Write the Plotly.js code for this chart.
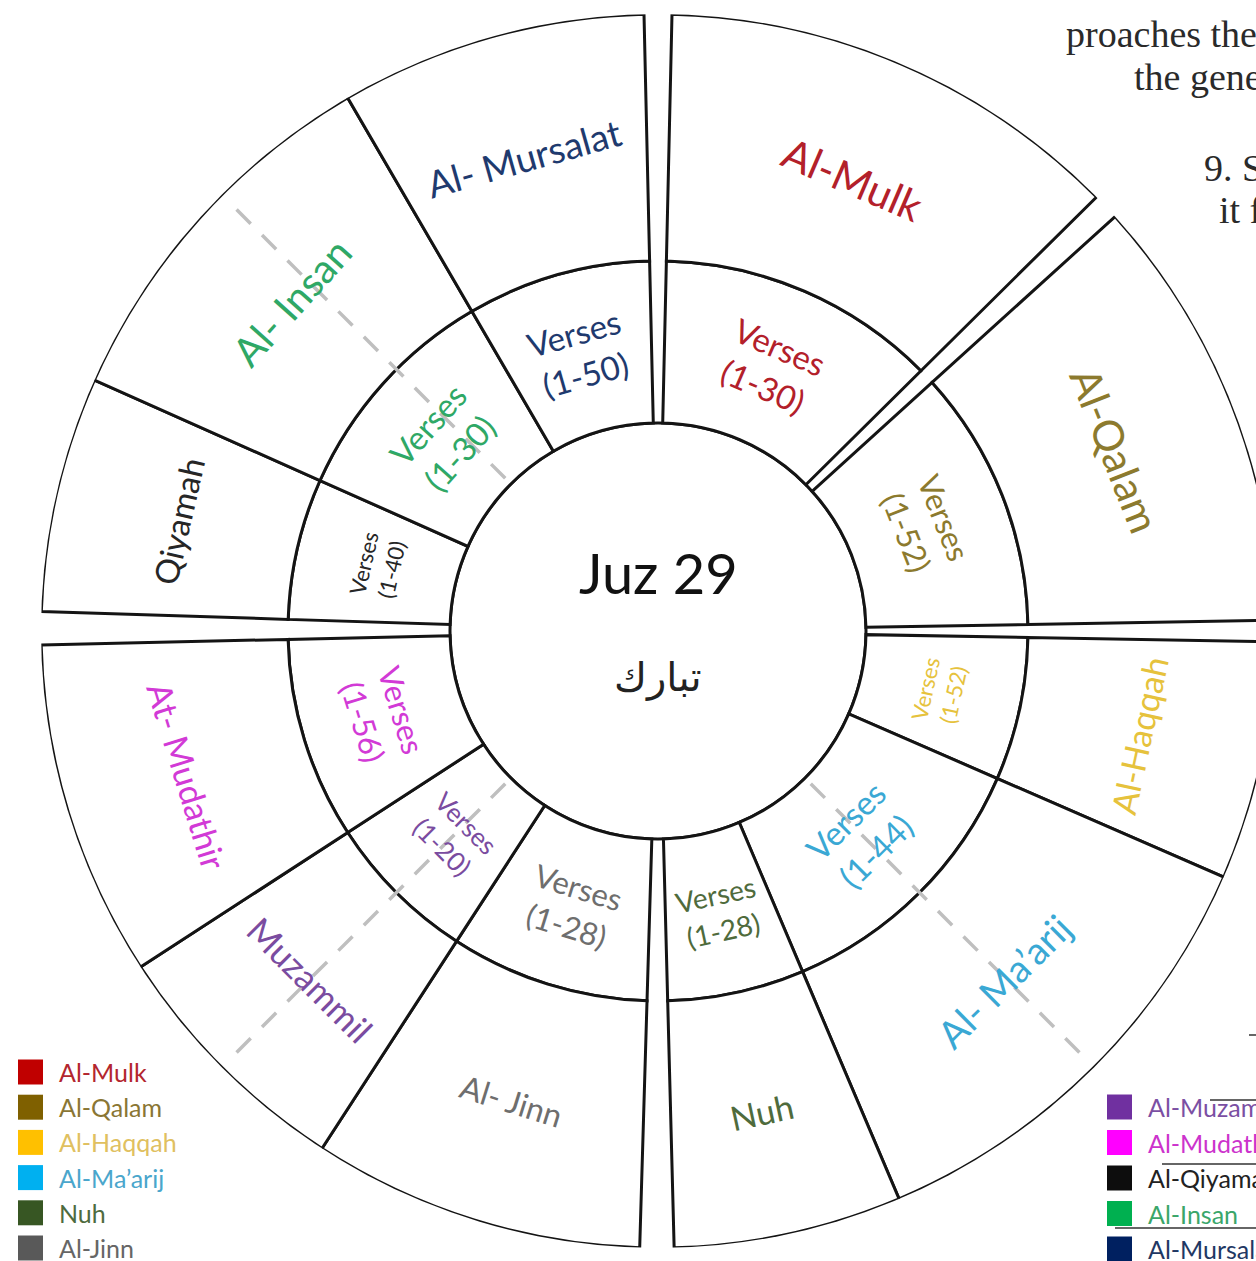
<!DOCTYPE html>
<html><head><meta charset="utf-8">
<script src="https://cdn.plot.ly/plotly-3.0.1.min.js"></script>
<style>html,body{margin:0;padding:0;overflow:hidden;background:#fff}#chart{width:1300px;height:1261px}</style>
</head><body><div id="chart"></div>
<script>
// ---------------- data ----------------
const surahs      = ["Al-Mulk","Al-Qalam","Al-Haqqah","Al-Ma’arij","Nuh","Al-Jinn","Al-Muzammil","Al-Mudathir","Al-Qiyamah","Al-Insan","Al-Mursalat"];
const ringLabels  = ["Al-Mulk","Al-Qalam","Al-Haqqah","Al- Ma’arij","Nuh","Al- Jinn","Muzammil","At- Mudathir","Qiyamah","Al- Insan","Al- Mursalat"];
const verseCounts = [30, 52, 52, 44, 28, 28, 20, 56, 40, 30, 50];
const sweepDeg    = [44.0, 41.2, 22.5, 43.5, 21.5, 31.3, 24.0, 31.7, 22.2, 35.8, 28.9];
const rubMarksDeg = [135, 225, 315];
const juzTitle    = "Juz 29";
const juzArabic   = "تبارك";
const legendLeft  = ["Al-Mulk","Al-Qalam","Al-Haqqah","Al-Ma’arij","Nuh","Al-Jinn"];
const legendRight = ["Al-Muzammil","Al-Mudathir","Al-Qiyamah","Al-Insan","Al-Mursalat"];
const pageText    = ["proaches the","the gene","9. S","it f"];

// ---------------- styles ----------------
const textColors   = ["#b3202a","#8c7a2e","#e6c23c","#3aa8d4","#4f6b3c","#6e6e6e","#7a4ca0","#d23ad6","#262626","#2fa866","#1f3a6e"];
const swatchColors = {"Al-Mulk":"#c00000","Al-Qalam":"#7f6000","Al-Haqqah":"#ffc000","Al-Ma’arij":"#00b0f0","Nuh":"#375623","Al-Jinn":"#595959",
                      "Al-Muzammil":"#7030a0","Al-Mudathir":"#ff00ff","Al-Qiyamah":"#0d0d0d","Al-Insan":"#00b050","Al-Mursalat":"#002060"};
const legendText   = {"Al-Mulk":"#b3262e","Al-Qalam":"#8a7634","Al-Haqqah":"#e0c060","Al-Ma’arij":"#4aa6cc","Nuh":"#4e6b3e","Al-Jinn":"#666666",
                      "Al-Muzammil":"#7b4fa3","Al-Mudathir":"#cc33cc","Al-Qiyamah":"#222222","Al-Insan":"#3aa66a","Al-Mursalat":"#1f3864"};
const gapBefore  = [1.3, 2.5, 2.0, 0, 0, 3.2, 0, 0, 3.1, 0, 0];
const outerSize  = [42, 42, 34, 38, 34, 32, 35, 34, 33, 40, 37];
const innerSize  = [33, 31, 22, 33, 28, 31, 26, 31, 22, 33, 33];
const FONT = "Lato, 'Open Sans', sans-serif";

const W = 1300, H = 1261, CX = 658, CY = 631, R = 617, R0 = 208, R1 = 370;

// angular layout
const mids = [];
let a = 0;
sweepDeg.forEach((s, i) => { a += gapBefore[i]; mids.push(a + s / 2); a += s; });

const outline = {color: "#141414", width: 3};
const traces = [
  {type: "barpolar", theta: [0], width: [360], base: [0], r: [R0],
   marker: {color: "#ffffff", line: outline}, hoverinfo: "skip", showlegend: false},
  {type: "barpolar", theta: mids, width: sweepDeg, base: R0, r: sweepDeg.map(() => R1 - R0),
   text: verseCounts.map(v => "Verses (1-" + v + ")"),
   marker: {color: "#ffffff", line: outline}, hoverinfo: "skip", showlegend: false},
  {type: "barpolar", theta: mids, width: sweepDeg, base: R1, r: sweepDeg.map(() => R - R1),
   text: surahs,
   marker: {color: "#ffffff", line: outline}, hoverinfo: "skip", showlegend: false}
];
rubMarksDeg.forEach(t => traces.push({
  type: "scatterpolar", mode: "lines", r: [R0 + 8, R - 14], theta: [t, t],
  line: {color: "#bfbfbf", width: 3.5, dash: "20px,16px"}, hoverinfo: "skip", showlegend: false
}));

function px(r, th) {
  const rad = th * Math.PI / 180;
  return [CX + r * Math.sin(rad), CY - r * Math.cos(rad)];
}
function paper(p) { return {x: p[0] / W, y: 1 - p[1] / H}; }
function tangentAngle(th) {
  if (th <= 90) return th;
  if (th < 270) return th - 180;
  return th - 360;
}

const annotations = [];
mids.forEach((th, i) => {
  const po = paper(px(492, th));
  annotations.push({xref: "paper", yref: "paper", x: po.x, y: po.y, xanchor: "center", yanchor: "middle",
    text: ringLabels[i], showarrow: false, textangle: tangentAngle(th),
    font: {family: FONT, size: outerSize[i], color: textColors[i]}});
  const pi = paper(px(288, th));
  annotations.push({xref: "paper", yref: "paper", x: pi.x, y: pi.y, xanchor: "center", yanchor: "middle",
    text: "Verses<br>(1-" + verseCounts[i] + ")", showarrow: false, textangle: tangentAngle(th),
    font: {family: FONT, size: innerSize[i], color: textColors[i]}});
});
// centre
annotations.push({xref: "paper", yref: "paper", x: paper([CX, 573]).x, y: paper([CX, 573]).y,
  text: juzTitle, showarrow: false, font: {family: FONT, size: 56, color: "#111"}});
annotations.push({xref: "paper", yref: "paper", x: paper([CX, 677]).x, y: paper([CX, 677]).y,
  text: juzArabic, showarrow: false, font: {family: "'DejaVu Sans', sans-serif", size: 40, color: "#222"}});

// legends
const shapes = [];
function legendColumn(names, x0, y0, step) {
  names.forEach((n, i) => {
    const yc = y0 + i * step;
    shapes.push({type: "rect", xref: "paper", yref: "paper",
      x0: x0 / W, x1: (x0 + 25) / W, y0: 1 - (yc - 12.5) / H, y1: 1 - (yc + 12.5) / H,
      fillcolor: swatchColors[n], line: {width: 0}});
    annotations.push({xref: "paper", yref: "paper", x: (x0 + 39) / W, y: 1 - yc / H,
      xanchor: "left", yanchor: "middle", text: n, showarrow: false,
      font: {family: FONT, size: 25, color: legendText[n]}});
  });
}
legendColumn(legendLeft, 18, 1072, 35.2);
legendColumn(legendRight, 1107, 1107, 35.5);

// surrounding page fragments
const pagePos = [[1064, 34], [1132, 77], [1202, 168], [1217, 210]];
pageText.forEach((t, i) => annotations.push({xref: "paper", yref: "paper",
  x: pagePos[i][0] / W, y: 1 - pagePos[i][1] / H, xanchor: "left", yanchor: "middle",
  text: t, showarrow: false, font: {family: "'Liberation Serif', serif", size: 38, color: "#2a2a2a"}}));
[[1210, 1100], [1162, 1164], [1115, 1228], [1249, 1035]].forEach(p => shapes.push({
  type: "line", xref: "paper", yref: "paper", x0: p[0] / W, x1: 1262 / W, y0: 1 - p[1] / H, y1: 1 - p[1] / H,
  line: {color: "#333", width: 1.5}}));

const layout = {
  width: W, height: H, margin: {l: 0, r: 0, t: 0, b: 0},
  paper_bgcolor: "#ffffff", plot_bgcolor: "#ffffff", showlegend: false,
  polar: {
    domain: {x: [(CX - R) / W, (CX + R) / W], y: [1 - (CY + R) / H, 1 - (CY - R) / H]},
    bgcolor: "rgba(0,0,0,0)", hole: 0, bargap: 0,
    radialaxis: {range: [0, R], visible: false, showgrid: false, showline: false, showticklabels: false, ticks: ""},
    angularaxis: {rotation: 90, direction: "clockwise", visible: false, showgrid: false, showline: false,
                  showticklabels: false, ticks: ""}
  },
  annotations: annotations, shapes: shapes
};
Plotly.newPlot("chart", traces, layout, {staticPlot: true, displayModeBar: false});
</script></body></html>
